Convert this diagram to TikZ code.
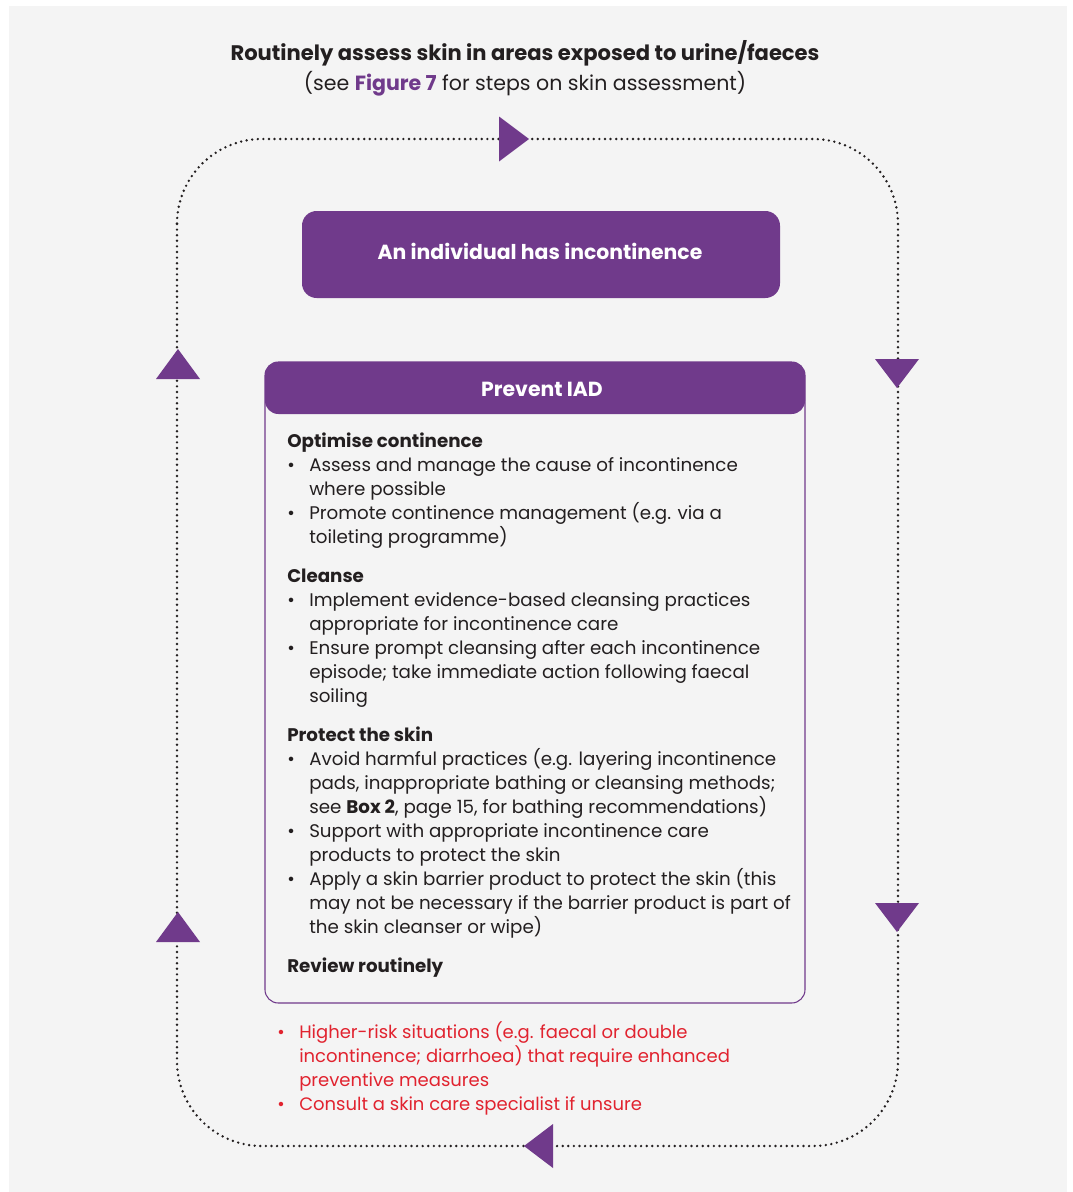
\documentclass[tikz,border=0pt]{standalone}
\usepackage{fontspec}
\setmainfont{Poppins}
\usepackage{xcolor}
\usepackage{tikz}
\usetikzlibrary{shapes,arrows}

\definecolor{iadpurple}{HTML}{703A8B}
\definecolor{iadgrey}{HTML}{F4F4F4}
\definecolor{iadtext}{HTML}{231F20}
\definecolor{iadred}{HTML}{E1232F}

\newcommand{\bul}{\makebox[16.5pt][l]{•}}
\newcommand{\ind}{\hspace*{16.5pt}}

\tikzset{
  loopline/.style={line width=2pt, dash pattern=on 0pt off 4.2pt, line cap=round, iadtext},
  looptip/.style={fill=iadpurple},
  purplebox/.style={draw=none, fill=iadpurple, rounded corners=11pt},
  boxtitle/.style={text=white, font=\fontsize{15.3}{18}\selectfont\bfseries},
  bodytext/.style={anchor=north west, inner sep=0pt, align=left, text=iadtext, font=\fontsize{13.7}{18}\selectfont}
}

\begin{document}
\begin{tikzpicture}[x=0.75pt,y=0.75pt,yscale=-1,xscale=1]
        \useasboundingbox (0,0) rectangle (1073,1192);
        \fill[iadgrey] (9,6) rectangle (1067,1192);

        % title
        \node (title) at (525,53) [inner sep=0pt, text=iadtext, font=\fontsize{15.8}{18}\selectfont\bfseries] {Routinely assess skin in areas exposed to urine/faeces};
        \node (subtitle) at (525,84) [inner sep=0pt, text=iadtext, font=\fontsize{15.4}{18}\selectfont] {(see \textcolor{iadpurple}{\textbf{Figure 7}} for steps on skin assessment)};

        % dotted loop
        \draw[loopline, rounded corners=63.75pt] (177,139) rectangle (898,1146);

        % arrow tips on the loop
        \fill[looptip] (529,139) -- (499,116.5) -- (499,161.5) -- cycle;
        \fill[looptip] (524,1146) -- (553,1124) -- (553,1168) -- cycle;
        \foreach \y in {359,903}
            \fill[looptip] (897,\y+29) -- (875,\y) -- (919,\y) -- cycle;
        \foreach \y in {349,912}
            \fill[looptip] (178,\y) -- (156,\y+30) -- (200,\y+30) -- cycle;

        % boxes
        \node (indiv) [purplebox, minimum width=358.5pt, minimum height=65.25pt] at (541,254.5) {};
        \node (indivtext) at (540,251) [boxtitle] {An individual has incontinence};
        \draw[iadpurple, line width=0.8pt, rounded corners=10pt] (265,362) rectangle (805,1003);
        \fill[iadpurple, rounded corners=10pt] (265,362) rectangle (805,414);
        \node (prevent) at (542,389) [boxtitle] {Prevent IAD};

        \node (prevbody) [bodytext] at (287,433) {%
            \textbf{Optimise continence}\\
            \bul Assess and manage the cause of incontinence\\
            \ind where possible\\
            \bul Promote continence management (e.g. via a\\
            \ind toileting programme)\\[11.25pt]
            \textbf{Cleanse}\\
            \bul Implement evidence-based cleansing practices\\
            \ind appropriate for incontinence care\\
            \bul Ensure prompt cleansing after each incontinence\\
            \ind episode; take immediate action following faecal\\
            \ind soiling\\[11.25pt]
            \textbf{Protect the skin}\\
            \bul Avoid harmful practices (e.g. layering incontinence\\
            \ind pads, inappropriate bathing or cleansing methods;\\
            \ind see \textbf{Box 2}, page 15, for bathing recommendations)\\
            \bul Support with appropriate incontinence care\\
            \ind products to protect the skin\\
            \bul Apply a skin barrier product to protect the skin (this\\
            \ind may not be necessary if the barrier product is part of\\
            \ind the skin cleanser or wipe)\\[11.25pt]
            \textbf{Review routinely}};

        \node (risk) [bodytext, text=iadred, font=\fontsize{13.5}{18}\selectfont] at (277,1021) {%
            \bul Higher-risk situations (e.g. faecal or double\\
            \ind incontinence; diarrhoea) that require enhanced\\
            \ind preventive measures\\
            \bul Consult a skin care specialist if unsure};
    \end{tikzpicture}
\end{document}
